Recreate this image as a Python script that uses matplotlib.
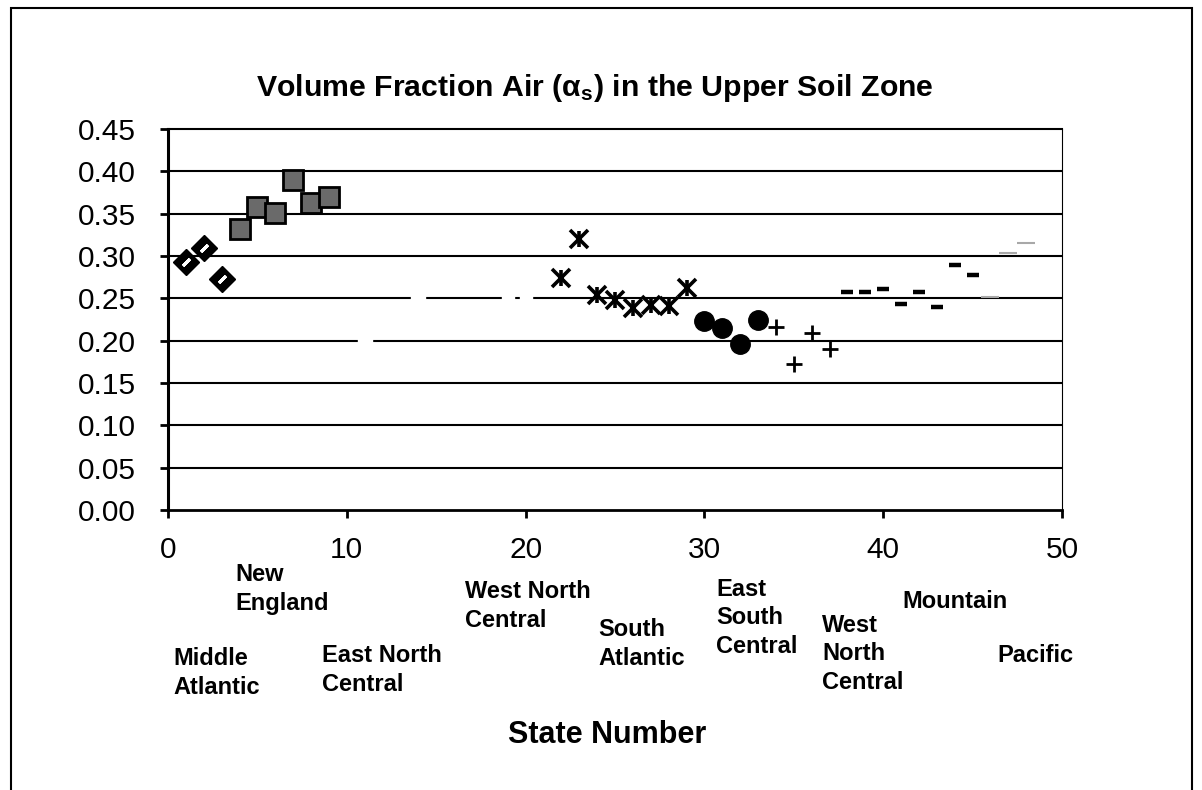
import matplotlib
matplotlib.use('Agg')
import matplotlib.pyplot as plt
from matplotlib.patches import Rectangle

plt.rcParams['font.family'] = ['Liberation Sans', 'DejaVu Sans']
plt.rcParams['mathtext.fontset'] = 'custom'
plt.rcParams['mathtext.rm'] = 'Liberation Sans'
plt.rcParams['mathtext.it'] = 'Liberation Sans:italic'

# region data (state number, volume fraction air)
mid_atl_x = [1, 2, 3]
mid_atl_y = [0.293, 0.309, 0.273]
new_eng_x = [4, 5, 6, 7, 8, 9]
new_eng_y = [0.332, 0.358, 0.351, 0.390, 0.363, 0.370]
# these two regions are drawn in white in the original, only the grid gaps show
en_central_x = [11, 14]
en_central_y = [0.200, 0.250]
wn_central_x = [19, 20]
wn_central_y = [0.250, 0.250]
s_atl_x = [22, 23, 24, 25, 26, 27, 28, 29]
s_atl_y = [0.274, 0.320, 0.254, 0.248, 0.238, 0.242, 0.241, 0.262]
es_central_x = [30, 31, 32, 33]
es_central_y = [0.223, 0.215, 0.196, 0.225]
ws_central_x = [34, 35, 36, 37]
ws_central_y = [0.216, 0.173, 0.209, 0.190]
mountain_x = [38, 39, 40, 41, 42, 43, 44, 45]
mountain_y = [0.258, 0.258, 0.261, 0.243, 0.258, 0.240, 0.289, 0.277]
pacific_x = [46, 47, 48]
pacific_y = [0.252, 0.303, 0.315]

region_labels = [
    ('New\nEngland', 235, 589),
    ('Middle\nAtlantic', 173, 673),
    ('East North\nCentral', 322, 670),
    ('West North\nCentral', 465, 606),
    ('South\nAtlantic', 598, 644),
    ('East\nSouth\nCentral', 716, 618),
    ('West\nNorth\nCentral', 822, 654),
    ('Mountain', 902, 602),
    ('Pacific', 997, 656),
]

W, H = 1202, 790
fig = plt.figure(figsize=(W / 100, H / 100), dpi=100)
ax = fig.add_axes([168 / W, 1 - 510 / H, (1062 - 168) / W, (510 - 129) / H])

# grid lines
for g in [0.05, 0.10, 0.15, 0.20, 0.25, 0.30, 0.35, 0.40]:
    ax.axhline(g, color='black', lw=1.5, zorder=1)

ax.plot(en_central_x, en_central_y, ls='none', marker='s', ms=10, mfc='white', mec='white', zorder=2)
ax.plot(wn_central_x, wn_central_y, ls='none', marker='s', ms=8, mfc='white', mec='white', zorder=2)

ax.plot(mid_atl_x, mid_atl_y, ls='none', marker='D', ms=13, color='black', zorder=3)
ax.plot(mid_atl_x, mid_atl_y, ls='none', marker=(2, 2, -45), ms=7, mew=2.2, color='white', zorder=4)
ax.plot(new_eng_x, new_eng_y, ls='none', marker='s', ms=14, mfc='#6a6a6a', mec='black', mew=2, zorder=3)
ax.plot(s_atl_x, s_atl_y, ls='none', marker='x', ms=13, mew=2.6, color='black', zorder=3)
ax.plot(s_atl_x, s_atl_y, ls='none', marker='|', ms=12, mew=2.6, color='black', zorder=3)
ax.plot(es_central_x, es_central_y, ls='none', marker='o', ms=14, color='black', zorder=3)
ax.plot(ws_central_x, ws_central_y, ls='none', marker='+', ms=11, mew=2, color='black', zorder=3)
ax.plot(mountain_x, mountain_y, ls='none', marker='_', ms=9, mew=3.2, color='black', zorder=3)
ax.plot(pacific_x, pacific_y, ls='none', marker='_', ms=13, mew=1.5, color='#a8a8a8', zorder=3)

ax.set_xlim(0, 50)
ax.set_ylim(0, 0.45)
ax.set_xticks([0, 10, 20, 30, 40, 50])
ax.set_yticks([0.00, 0.05, 0.10, 0.15, 0.20, 0.25, 0.30, 0.35, 0.40, 0.45])
ax.set_yticklabels(['%.2f' % v for v in ax.get_yticks()])
ax.tick_params(axis='both', direction='out', length=6, width=2, labelsize=21.5, color='black')
ax.tick_params(axis='y', pad=17)
ax.tick_params(axis='x', pad=13)
ax.spines['left'].set_linewidth(2.2)
ax.spines['bottom'].set_linewidth(2.0)
ax.spines['top'].set_linewidth(1.5)
ax.spines['right'].set_linewidth(0.8)

fig.text(595 / W, 1 - 88 / H, r'Volume Fraction Air ($\mathregular{\alpha_s}$) in the Upper Soil Zone',
         ha='center', va='center', fontsize=21.8, fontweight='bold')
fig.text(607 / W, 1 - 735 / H, 'State Number', ha='center', va='center', fontsize=22, fontweight='bold')

for txt, px, py in region_labels:
    fig.text(px / W, 1 - py / H, txt, ha='left', va='center', fontsize=17,
             fontweight='bold', linespacing=1.32)

# outer frame of the chart
fig.patches.append(Rectangle((11 / W, -0.02), (1192 - 11) / W, 1.02 - 8 / H, transform=fig.transFigure,
                             fill=False, ec='black', lw=1.5))

fig.savefig('out.png', dpi=100)
